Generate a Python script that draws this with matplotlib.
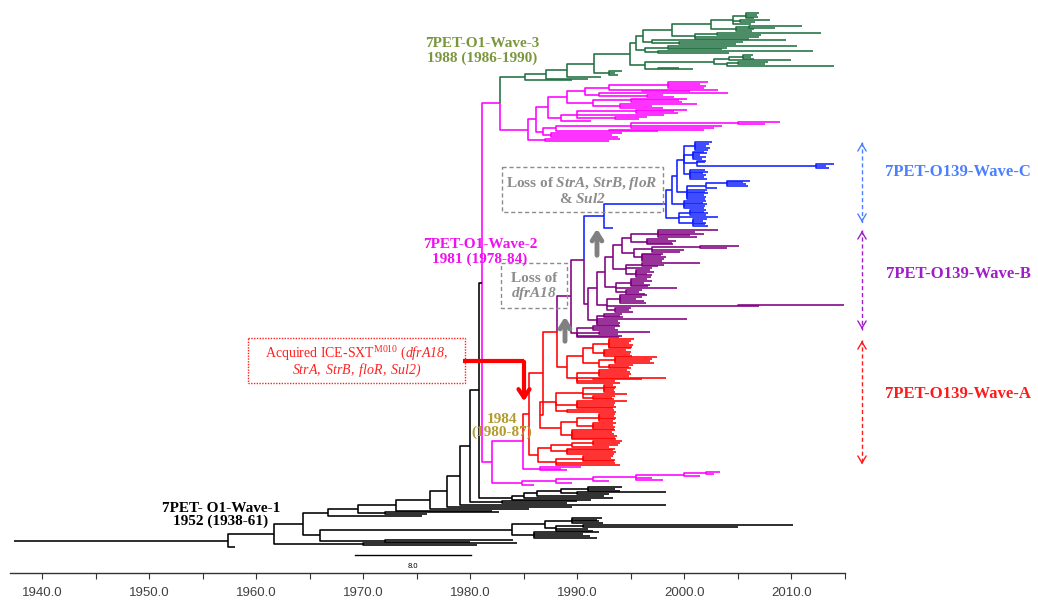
import matplotlib
matplotlib.use("Agg")
import matplotlib.pyplot as plt
from matplotlib.collections import LineCollection
from matplotlib.patches import Rectangle

plt.rcParams["mathtext.fontset"] = "custom"
plt.rcParams["mathtext.rm"] = "Liberation Serif"
plt.rcParams["mathtext.it"] = "Liberation Serif:italic"
plt.rcParams["mathtext.bf"] = "Liberation Serif:bold"
# sf -> bold italic, tt -> italic (digits stay italic, unlike \mathit)
plt.rcParams["mathtext.sf"] = "Liberation Serif:italic:bold"
plt.rcParams["mathtext.tt"] = "Liberation Serif:italic"

# Dated tree: a clade is [node_year, child, child, ...], a tip is its sampling year.
# ("key", clade) switches the branch colour from that clade downwards.
wave3_green = [1985.1,
    [1987.1,
        [1989.0,
            [1991.6,
                [1994.9,
                    [1995.5,
                        [1996.1,
                            [1998.8,
                                [2002.5,
                                    [2004.5, [2005.8, 2007.0, 2006.8, 2006.9, 2006.5],
                                             [2005.2, 2008.0, 2006.6], 2006.2],
                                    [2004.8, [2006.0, 2011.0, 2008.5], 2006.5, 2006.3]],
                                [2001.0, [2003.0, 2012.8, 2007.2], 2007.0, 2006.0]],
                            [1997.0, 2009.5, [1999.5, 2005.5, 2004.8]]],
                        [1996.3, [1998.5, 2010.5, 2004.0, 2003.5], [1997.5, 2012.0, 2004.2]]],
                    [1996.3,
                        [2002.8, [2004.2, [2005.5, 2006.4, 2006.2, 2006.5], 2010.0],
                                 [2004.0, [2005.0, 2007.8, 2007.5], 2014.0]],
                        [1997.5, 1999.5, 2000.8]]],
                [1993.0, 1994.2, 1993.5, 1993.8]],
            1992.2],
        1991.0],
    1989.5]

wave2_upper = [1985.4,
    [1986.1,
        [1987.3,
            [1989.0,
                [1990.7, [1993.0, [1998.5, 2002.2, 2001.5, 2002.0, 2001.8], [1996.0, 2003.1, 2000.5]],
                         [1992.0, 2004.1, [1996.5, 1998.0, 1999.0]]],
                [1991.5, [1995.0, 2000.2, 1999.5, 1999.8], [1994.0, 2001.2, 1997.0, 1998.0]]],
            [1988.5,
                [1990.0, [1995.5, 2000.2, 1999.0, 1999.4], 1998.1, [1993.5, 1996.5, 1995.8]],
                1991.3]],
        [1986.8,
            [1988.0, [1995.0, [2005.0, 2008.9, 2007.5], 2003.5, 2002.8], [1993.0, 2001.8, 1997.5]],
            [1987.5, 1994.2, 1993.2, 1993.8]]],
    [1987.0, 1994.0, 1993.0]]

wave_c_blue = [1992.5,
    [1998.3,
        [1998.8,
            [1999.3,
                [2000.0,
                    [2001.0, 2002.6, 2002.3, 2002.0, 2002.4, 2002.2],
                    [2000.8, 2001.8, 2002.1, 2001.5, 2002.0, 2001.6],
                    [2001.2, 2002.0, 2001.9, [2012.3, 2014.0, 2013.2, 2013.5]],
                    [2000.5, 2001.9, 2002.2, 2001.7, 2002.0, 2001.8, 2002.1]],
                [2000.2, [2002.0, [2004.0, 2006.1, 2005.5, 2005.8, 2005.9], 2003.0],
                         2002.1, 2001.9, 2002.2, 2001.8, 2002.0, 2001.9]],
            [2000.0, 2002.0, 2001.7, 2002.1, 2001.9, 2001.8]],
        [1999.5, [2000.5, 2002.0, 2001.8, 2002.2, 2002.0], 2003.1,
                 [2000.8, 2002.1, 2001.7, 2002.0, 2001.9, 2002.2]]],
    1993.3]

wave_b_purple = [1991.0,
    [1991.8,
        [1992.6,
            [1993.3,
                [1994.2,
                    [1995.0, [1997.5, 2003.1, 2001.0, 2001.8, 2000.5, 2001.2],
                             [1996.5, 1998.5, 1999.2, 1998.8, 1998.9]],
                    [1995.3, [1997.0, [2001.5, 2005.1, 2004.0], 2000.0, 1999.6],
                             [1996.0, 1998.0, 1997.8, 1998.3, 1998.1, 1997.9]]],
                [1994.5, [1996.0, 2001.5, 1998.1, 1997.5], 1997.0,
                         [1995.5, 1996.8, 1997.2, 1996.5, 1997.0, 1996.9]]],
            [1993.6, [1995.0, 1996.5, 1997.0, 1996.2, 1996.8, 1996.6], 1999.3,
                     [1994.5, 1996.0, 1995.8, 1996.3]]],
        [1992.8, [1994.0, 1996.5, 1996.0, 1995.5, 1996.2, 1996.4], [2005.0, 2014.95, 2007.0],
                 [1993.5, 1995.0, 1994.8, 1995.2]]],
    [1991.8, [1992.5, 1994.2, 1994.0, 1994.3], 2000.2, 1993.8, 1994.0, 1993.9]]

wave_b_small = [1990.0, [1991.5, 1994.0, 1993.5, 1993.8], [1992.0, 1996.8, 1993.8], 1994.2, 1993.9]

wave_a_upper = [1989.0,
    [1990.5,
        [1991.5, [1993.0, 1995.3, 1995.0, 1994.8, 1995.2, 1995.1, 1995.0],
                 [1992.5, 1994.5, 1995.0, 1994.9, 1995.1]],
        [1992.0, [1993.5, 1997.4, 1997.0, 1996.8, 1997.2], [1993.0, 1995.2, 1994.8, 1995.0]]],
    [1990.0, [1992.0, 1994.6, 1994.9, 1995.0, 1994.8], [1991.5, 1998.3, 1996.0], 1993.5, 1994.0]]

wave_a_mid = [1986.5,
    [1988.0, [1990.5, [1992.5, 1993.3, 1993.6, 1993.5, 1993.4, 1993.5], 1994.6,
                      [1991.5, 1993.5, 1993.2, 1993.4]],
             [1990.0, 1994.6, 1993.5, 1993.4, 1993.6, 1993.3], [1989.0, 1993.4, 1993.6]],
    [1988.5, [1990.0, [1992.0, 1993.5, 1993.4, 1993.6, 1993.5, 1993.3],
                      [1991.5, 1993.6, 1993.3, 1993.5, 1993.4]],
             [1989.5, 1993.5, 1993.2, 1993.4, 1993.7, 1993.5, 1993.6]]]

wave_a_low = [1986.3,
    [1987.5, [1989.5, [1991.5, 1994.2, 1994.0, 1993.8], 1993.0], [1989.0, 1993.5, 1993.3, 1993.6, 1993.4]],
    [1988.0, [1990.5, 1993.3, 1993.1, 1993.5, 1993.4], 1993.5, 1994.0]]

wave2_small = [1986.5, 1990.3, 1988.5, 1989.0]
wave2_lineage = [1984.8, [1988.0, [1991.5, [1995.5, [2000.0, [2002.0, 2003.3, 2002.8], 2001.5],
                                            1997.0, 1998.0], 1993.0], 1989.5], 1986.0]

wave1_b1 = [1983.9, [1985.0, [1986.2, [1988.5, [1991.0, 1994.2, 1993.5, 1994.0],
                                                [1990.0, 1998.3, 1993.0]], 1992.5], 1993.3], 1991.3]
wave1_b2 = [1966.0,
    [1983.9, [1987.0, [1989.5, 1992.3, 1991.8, 1992.0, 1992.4],
                      [1988.0, [1990.5, 2010.1, 2005.0], 1991.0, 1991.5]],
             [1986.0, 1992.0, 1990.5, 1991.2, 1991.8]],
    [1972.0, 1984.0, 1980.0]]

# O139 part of the tree (waves A, B, C)
o139_purple = [1989.4, [1990.6, ("b", wave_c_blue), wave_b_purple], wave_b_small]
o139_red = [1985.5, [1986.8, [1988.1, ("p", o139_purple), wave_a_upper], wave_a_mid], wave_a_low]

# Wave-2 and Wave-3
wave2 = [1981.1,
         ("m", [1982.75, ("g", wave3_green), wave2_upper]),
         ("m", [1982.0, [1984.9, ("r", o139_red), wave2_small], wave2_lineage])]

# Wave-1 backbone
tree = [1938.1,
    [1957.4,
        [1961.7,
            [1964.4,
                [1966.7,
                    [1969.5,
                        [1973.1,
                            [1976.2,
                                [1977.8,
                                    [1979.0,
                                        [1980.0, [1980.8, wave2, wave1_b1], [1983.0, 1990.0, 1989.0]],
                                        1998.3],
                                    1989.5],
                                1985.5],
                            1982.0],
                        [1972.0, 1982.7, 1976.0]],
                    1975.5],
                wave1_b2],
            [1970.0, 1984.4, 1980.6]],
        1958.0]]
root_year = 1937.4

colours = {"k": "black", "m": "#ff00ff", "g": "#1f7040", "b": "#1020ff",
           "p": "#800080", "r": "#ff0000"}

year_ticks = [1940, 1950, 1960, 1970, 1980, 1990, 2000, 2010]


def count_tips(node):
    if isinstance(node, tuple):
        return count_tips(node[1])
    if isinstance(node, list):
        return sum(count_tips(c) for c in node[1:])
    return 1


n_tips = count_tips(tree)
y_top, y_bottom = 13.0, 547.0
step = (y_bottom - y_top) / (n_tips - 1)
segments = {}
tip_index = [0]


def lay_out(node, colour):
    if isinstance(node, tuple):
        colour, node = node
    if not isinstance(node, list):
        y = y_top + tip_index[0] * step
        tip_index[0] += 1
        return node, y, colour
    t = node[0]
    kids = [lay_out(c, colour) for c in node[1:]]
    y = (kids[0][1] + kids[-1][1]) / 2
    for tc, yc, cc in kids:
        segments.setdefault(cc, []).append([(t, y), (t, yc), (tc, yc)])
    return t, y, colour


_, root_y, _ = lay_out(tree, "k")
segments["k"].append([(root_year, root_y), (tree[0], root_y)])

W, H = 1038, 605
fig = plt.figure(figsize=(W / 100, H / 100), dpi=100)
ax = fig.add_axes([10 / W, 32 / H, 835 / W, 573 / H])
for key, segs in segments.items():
    ax.add_collection(LineCollection(segs, colors=colours[key], linewidths=1.15))

ax.set_xlim(1940 - 32 / 10.714, 1940 + 803 / 10.714)
ax.set_ylim(573, 0)
for s in ["top", "left", "right"]:
    ax.spines[s].set_visible(False)
ax.spines["bottom"].set_color("#333333")
ax.spines["bottom"].set_linewidth(1.0)
ax.set_yticks([])
ax.set_xticks(year_ticks)
ax.set_xticklabels([f"{y:.1f}" for y in year_ticks], fontfamily="Liberation Sans",
                   fontsize=9.5, color="#404040")
ax.set_xticks([y + 5 for y in year_ticks], minor=True)
ax.tick_params(axis="x", which="both", direction="out", length=4, width=0.8,
               color="#333333", pad=6)
ax.patch.set_alpha(0)

# Annotation layer in pixel coordinates
ov = fig.add_axes([0, 0, 1, 1])
ov.set_xlim(0, W)
ov.set_ylim(H, 0)
ov.axis("off")
ov.patch.set_alpha(0)

serif = "Liberation Serif"
ov.text(482, 51, "7PET-O1-Wave-3\n1988 (1986-1990)", ha="center", va="center",
        fontfamily=serif, fontweight="bold", fontsize=11, color="#7b973d", linespacing=1.15)
ov.text(480, 252, "7PET-O1-Wave-2\n1981 (1978-84)", ha="center", va="center",
        fontfamily=serif, fontweight="bold", fontsize=11, color="#f010f0", linespacing=1.2)
ov.text(502, 426, "1984\n(1980-87)", ha="center", va="center",
        fontfamily=serif, fontweight="bold", fontsize=11, color="#b39b2f", linespacing=1.0)
ov.text(221, 515, "7PET- O1-Wave-1\n1952 (1938-61)", ha="center", va="center",
        fontfamily=serif, fontweight="bold", fontsize=11, color="black", linespacing=1.0)

# Gene loss boxes
grey = "#8c8c8c"
ov.add_patch(Rectangle((502, 167), 161, 45, fill=False, ec=grey, lw=1, ls=(0, (3, 2))))
ov.text(582, 183, "Loss of $\\mathsf{StrA}$, $\\mathsf{StrB}$, $\\mathsf{floR}$", ha="center",
        va="center", fontfamily=serif, fontweight="bold", fontsize=11, color=grey)
ov.text(582, 199, "& $\\mathsf{Sul2}$", ha="center", va="center",
        fontfamily=serif, fontweight="bold", fontsize=11, color=grey)
ov.add_patch(Rectangle((501, 263), 66, 45, fill=False, ec=grey, lw=1, ls=(0, (3, 2))))
ov.text(534, 278, "Loss of", ha="center", va="center",
        fontfamily=serif, fontweight="bold", fontsize=11, color=grey)
ov.text(534, 294, "$\\mathsf{dfrA18}$", ha="center", va="center",
        fontfamily=serif, fontweight="bold", fontsize=11, color=grey)
for x, y0, y1 in [(597, 258, 226), (565, 344, 314)]:
    ov.annotate("", xy=(x, y1), xytext=(x, y0),
                arrowprops=dict(arrowstyle="->,head_length=0.55,head_width=0.35",
                                lw=3.5, color="#808080"))

# ICE acquisition box and arrow
red = "#ff2020"
ov.add_patch(Rectangle((248, 338), 217, 45, fill=False, ec=red, lw=1, ls=(0, (1, 1))))
ov.text(357, 354, "Acquired ICE-SXT$^{\\mathrm{M010}}$ ($\\mathtt{dfrA18,}$", ha="center",
        va="center", fontfamily=serif, fontsize=10, color=red)
ov.text(357, 370, "$\\mathtt{StrA,\\ StrB,\\ floR,\\ Sul2)}$", ha="center",
        va="center", fontfamily=serif, fontsize=10, color=red)
ov.plot([463, 524], [361, 361], color="#ff0000", lw=3, solid_capstyle="butt")
ov.annotate("", xy=(524, 404), xytext=(524, 359),
            arrowprops=dict(arrowstyle="->,head_length=0.6,head_width=0.4",
                            lw=3, color="#ff0000"))

# Wave extent markers on the right
waves = [("7PET-O139-Wave-C", "#4a80ff", 140, 225, 172),
         ("7PET-O139-Wave-B", "#a01ec8", 228, 332, 274),
         ("7PET-O139-Wave-A", "#ff1a1a", 338, 467, 394)]
for label, c, top, bot, ty in waves:
    ov.plot([862, 862], [top + 2, bot - 2], color=c, lw=1, ls=(0, (3, 2)))
    ov.annotate("", xy=(862, top), xytext=(862, top + 8),
                arrowprops=dict(arrowstyle="->,head_length=0.5,head_width=0.3", lw=1, color=c))
    ov.annotate("", xy=(862, bot), xytext=(862, bot - 8),
                arrowprops=dict(arrowstyle="->,head_length=0.5,head_width=0.3", lw=1, color=c))
    ov.text(958, ty, label, ha="center", va="center", fontfamily=serif,
            fontweight="bold", fontsize=12, color=c)

# Scale bar
ov.plot([355, 471], [555, 555], color="black", lw=1)
ov.text(413, 566, "8.0", ha="center", va="center", fontfamily="Liberation Sans", fontsize=5.5)

fig.savefig("out.png", dpi=100)
